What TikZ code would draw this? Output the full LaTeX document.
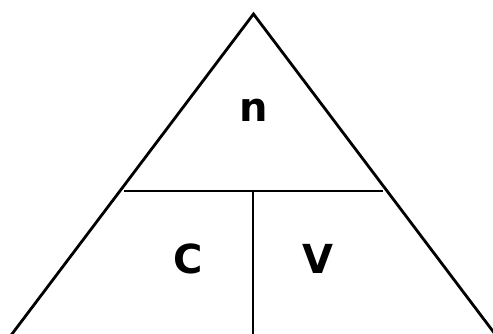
\documentclass[tikz,border=0pt]{standalone}
\usepackage{fontspec}
\setmainfont{DejaVu Sans}
\usetikzlibrary{calc}
\begin{document}
\begin{tikzpicture}[x=1pt,y=-1pt,
  edge/.style={draw=black,line width=2.8pt,line cap=butt},
  lbl/.style={font=\fontsize{40}{40}\selectfont\bfseries,inner sep=0pt,anchor=base}]
\useasboundingbox (0,0) rectangle (493,334);
\coordinate (apex) at (253.5,14);
\coordinate (bl) at (12,334);
\coordinate (br) at (495,334);
\coordinate (hl) at (124,191);
\coordinate (hr) at (383,191);
\coordinate (vt) at (253,191);
\coordinate (vb) at (253,340);
\begin{scope}
\clip (0,0) rectangle (493,334);
\draw[edge,line join=miter] ($(bl)!-0.02!(apex)$) -- (apex) -- ($(br)!-0.02!(apex)$);
\draw[edge] (hl) -- (hr);
\draw[edge] (vt) -- (vb);
\end{scope}
\node[lbl] (n) at (254,122) {n};
\node[lbl] (c) at (188,273) {C};
\node[lbl] (v) at (318,273) {V};
\end{tikzpicture}
\end{document}
